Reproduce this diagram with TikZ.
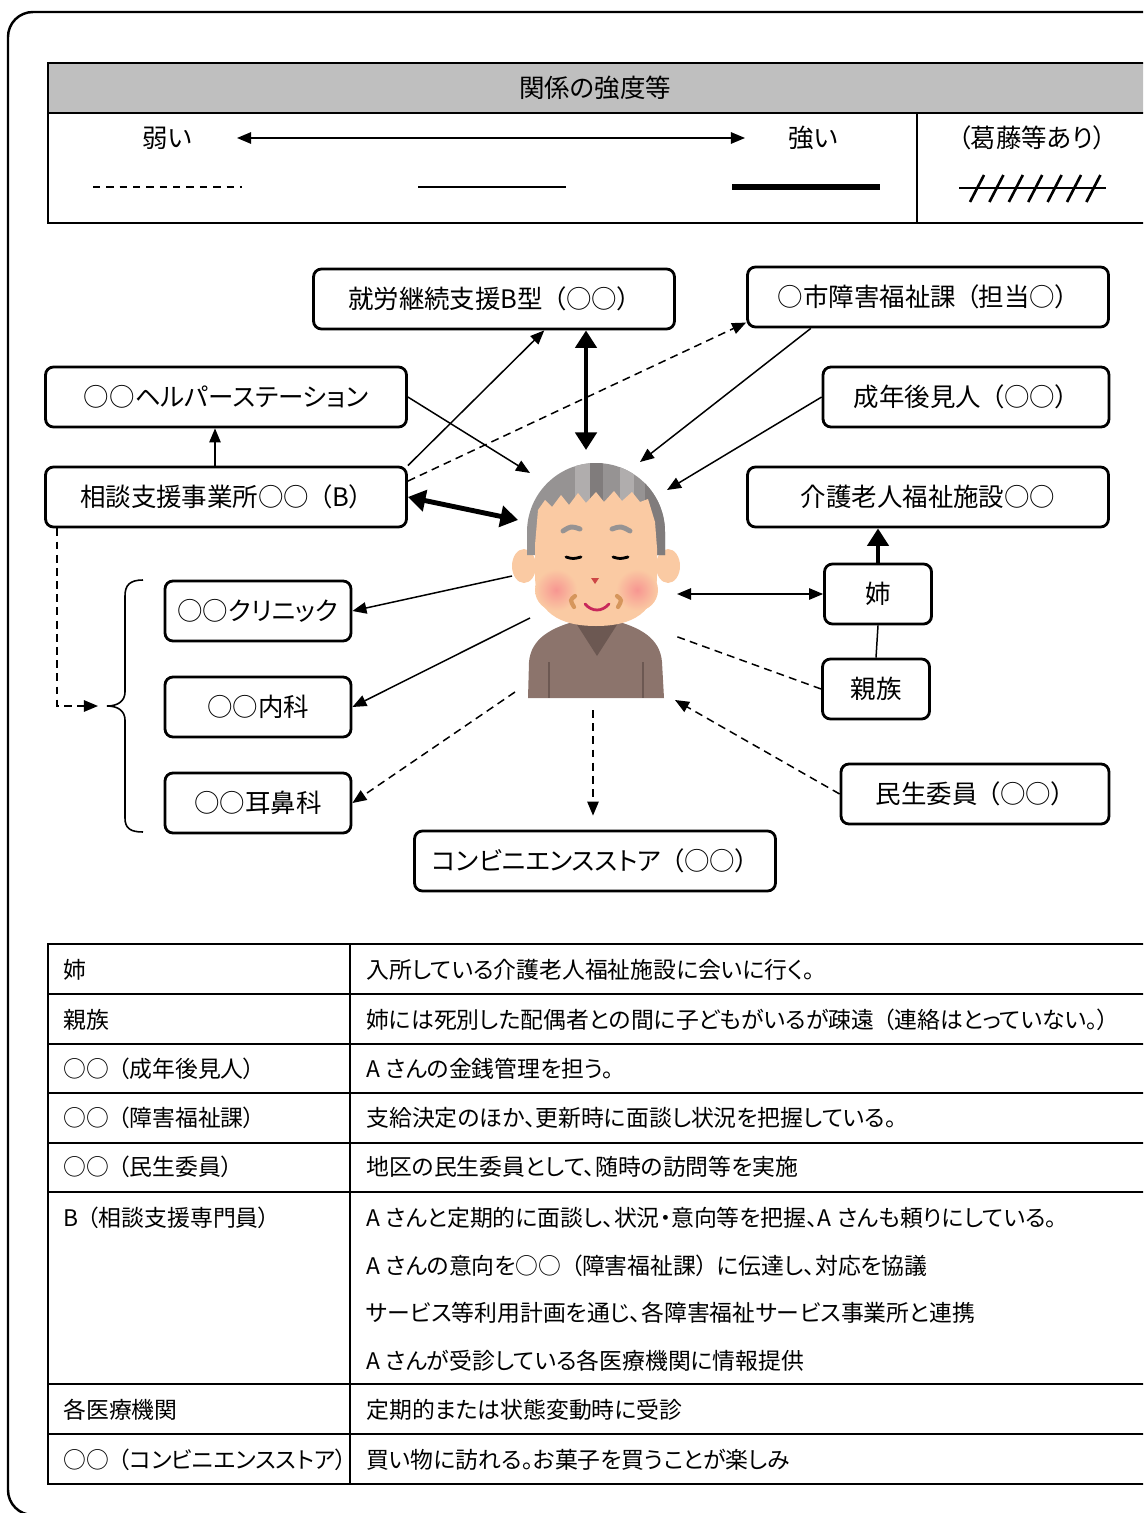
\documentclass[tikz,border=0pt]{standalone}
\usepackage{fontspec}
\setmainfont{Noto Sans CJK JP}[RawFeature=+palt]
\usetikzlibrary{arrows.meta}

% keep the full-width look of the brackets next to proportional kana
\XeTeXinterchartokenstate=1
\newXeTeXintercharclass\openparclass
\newXeTeXintercharclass\closeparclass
\XeTeXcharclass"FF08=\openparclass
\XeTeXcharclass"FF09=\closeparclass
\XeTeXinterchartoks 0 \openparclass={\kern.4em}
\XeTeXinterchartoks 1 \openparclass={\kern.4em}
\XeTeXinterchartoks \closeparclass 0={\kern.4em}
\XeTeXinterchartoks \closeparclass 1={\kern.4em}
\XeTeXinterchartoks \closeparclass 4095={\kern.4em}

\definecolor{legendgray}{RGB}{191,191,191}
\definecolor{skin}{RGB}{250,202,163}
\definecolor{blush}{RGB}{247,150,145}
\definecolor{hair}{RGB}{150,147,147}
\definecolor{hairlight}{RGB}{176,173,173}
\definecolor{hairdark}{RGB}{128,124,124}
\definecolor{sweater}{RGB}{140,116,108}
\definecolor{sweaterdark}{RGB}{108,88,82}
\definecolor{mouthred}{RGB}{200,40,90}
\definecolor{wrinkle}{RGB}{214,150,92}
\definecolor{nosered}{RGB}{205,70,70}

\newcommand{\boxfont}{\fontsize{14.5pt}{17pt}\selectfont}
\newcommand{\cellfont}{\fontsize{13pt}{16pt}\selectfont}

\begin{document}
\begin{tikzpicture}[
    x=0.02cm, y=-0.02cm,
    box/.style={rectangle, draw, line width=1.6pt, rounded corners=4.5pt, minimum height=1.2cm, font=\boxfont},
    wide/.style={box, minimum width=7.22cm},
    short/.style={box, minimum width=3.72cm},
    tiny/.style={box, minimum width=2.14cm},
    cell/.style={anchor=west, inner sep=0pt, font=\cellfont},
    rule/.style={line width=1.3pt},
    arrow/.style={-{Triangle[length=8pt,width=6.5pt]}, line width=0.85pt},
    both/.style={{Triangle[length=8pt,width=6.5pt]}-{Triangle[length=8pt,width=6.5pt]}, line width=0.85pt},
    strong/.style={-{Triangle[length=10pt,width=12pt]}, line width=2.8pt},
    strongboth/.style={{Triangle[length=10pt,width=12pt]}-{Triangle[length=10pt,width=12pt]}, line width=2.8pt},
    weak/.style={dash pattern=on 4.5pt off 3pt}
]
\useasboundingbox (0,0) rectangle (1143,1513);
\clip (0,0) rectangle (1143,1513);

% outer frame
\draw[line width=1.4pt, rounded corners=0.5cm] (8,12) rectangle (1180,1515);

% legend
\fill[legendgray] (48,63) rectangle (1200,113);
\draw[rule] (48,63) rectangle (1200,223);
\draw[rule] (48,113) -- (1200,113);
\draw[line width=1pt] (917,113) -- (917,223);
\node[font=\boxfont] (legendtitle) at (595,88) {関係の強度等};
\node[font=\boxfont] (weaklbl) at (167,138) {弱い};
\node[font=\boxfont] (stronglbl) at (813,138) {強い};
\node[font=\boxfont] (conflictlbl) at (1037,138) {（葛藤等あり）};
\coordinate (scaleleft) at (237,138);
\coordinate (scaleright) at (745,138);
\draw[both] (scaleleft) -- (scaleright);
\draw[line width=1.2pt, dash pattern=on 4.2pt off 3.4pt] (93,187) -- (242,187);
\draw[line width=1.6pt] (418,187) -- (566,187);
\draw[line width=3.5pt] (732,187) -- (880,187);
\draw[line width=0.9pt] (959,188) -- (1106,188);
\foreach \i in {0,...,6}
    \draw[line width=1.5pt] ({977+19.4*\i-7},202) -- ({977+19.4*\i+7},175);

% services and people around A
\node[wide] (shurou) at (494,299) {就労継続支援B型（○○）};
\node[wide] (shishogai) at (928,297) {○市障害福祉課（担当○）};
\node[wide] (helper) at (226,397) {○○ヘルパーステーション};
\node[box, minimum width=5.72cm] (kouken) at (966,397) {成年後見人（○○）};
\node[wide] (soudan) at (226,497) {相談支援事業所○○（B）};
\node[wide] (kaigo) at (928,497) {介護老人福祉施設○○};
\node[short] (clinic) at (258,611) {○○クリニック};
\node[tiny] (ane) at (878,594) {姉};
\node[short] (naika) at (258,707) {○○内科};
\node[tiny] (shinzoku) at (876,689) {親族};
\node[short] (jibika) at (258,803) {○○耳鼻科};
\node[box, minimum width=5.36cm] (minsei) at (975,794) {民生委員（○○）};
\node[wide] (konbini) at (595,861) {コンビニエンスストア（○○）};

% A (the elderly man)
\fill[sweater] (528,698) -- (529,662) .. controls (531,638) and (552,627) .. (580,620)
    -- (612,620) .. controls (640,627) and (660,638) .. (662,662) -- (664,698) -- cycle;
\fill[sweaterdark] (574,620) -- (597,656) -- (620,620) -- cycle;
\draw[sweaterdark, line width=1.2pt] (549,662) -- (549,698);
\draw[sweaterdark, line width=1.2pt] (643,662) -- (643,698);
\fill[skin] (524,566) ellipse (12 and 17);
\fill[skin] (668,566) ellipse (12 and 17);
\begin{scope}
    \clip (527,555) -- (527,532) arc[start angle=180, end angle=360, radius=69] -- (665,555) -- cycle;
    \fill[hair] (520,450) rectangle (670,560);
    \fill[hairlight] (575,450) rectangle (590,520);
    \fill[hairdark] (590,450) rectangle (603,520);
    \fill[hairlight] (620,450) rectangle (634,520);
    \fill[hairdark] (645,450) rectangle (670,560);
\end{scope}
\fill[skin] (535,545) -- (538,510) -- (545,500) -- (552,507) -- (561,495) -- (569,505)
    -- (578,493) -- (586,503) -- (596,492) -- (604,502) -- (614,491) -- (622,501)
    -- (632,492) -- (640,502) -- (648,499) -- (655,522) -- (657,548) -- (657,575)
    .. controls (657,613) and (632,626) .. (596,626) .. controls (560,626) and (535,613) .. (535,575) -- cycle;
\shade[inner color=blush, outer color=skin] (556,590) circle (21);
\shade[inner color=blush, outer color=skin] (637,590) circle (21);
\draw[hair, line width=2.8pt, line cap=round] (563,531) .. controls (571,526) .. (580,529);
\draw[hair, line width=2.8pt, line cap=round] (612,529) .. controls (621,526) .. (630,531);
\draw[line width=1.6pt, line cap=round] (566,557) .. controls (573,559) .. (581,557);
\draw[line width=1.6pt, line cap=round] (613,557) .. controls (620,559) .. (628,557);
\fill[nosered] (591,578) -- (599,578) -- (595,584) -- cycle;
\draw[wrinkle, line width=2.4pt, line cap=round] (575,596) .. controls (570,600) .. (574,607);
\draw[wrinkle, line width=2.4pt, line cap=round] (617,596) .. controls (622,600) .. (618,607);
\draw[mouthred, line width=1.6pt, line cap=round] (585,604) .. controls (592,612) and (602,612) .. (609,604);

% where the lines meet A
\coordinate (p-helper) at (530,473);
\coordinate (p-shurou) at (586,450);
\coordinate (p-soudan) at (518,520);
\coordinate (p-shi) at (640,462);
\coordinate (p-kouken) at (667,490);
\coordinate (p-ane) at (677,594);
\coordinate (p-shinzoku) at (675,636);
\coordinate (p-minsei) at (675,700);
\coordinate (p-konbini) at (593,710);
\coordinate (p-jibika) at (515,692);
\coordinate (p-naika) at (530,618);
\coordinate (p-clinic) at (512,576);
\coordinate (medical) at (98,706);

% medical bracket
\draw[line width=0.9pt] (143,580) .. controls (130,580) and (125,585) .. (125,596) -- (125,692)
    .. controls (125,701) and (118,706) .. (107,706) .. controls (118,706) and (125,711) .. (125,720)
    -- (125,818) .. controls (125,828) and (130,832) .. (143,832);

% Connections
\draw[arrow] (helper.east) -- (p-helper);
\draw[arrow] (soudan.north east) -- (shurou.-32);
\draw[arrow, weak] (soudan.5) -- (shishogai.188);
\draw[strongboth] (soudan.east) -- (p-soudan);
\draw[strongboth] (p-shurou |- shurou.south) -- (p-shurou);
\draw[arrow] (shishogai.-165) -- (p-shi);
\draw[arrow] (kouken.west) -- (p-kouken);
\draw[arrow] ([xshift=-0.22cm]soudan.north) -- ([xshift=-0.22cm]helper.south);
\draw[arrow, weak] ([xshift=0.26cm]soudan.south west) |- (medical);
\draw[arrow] (p-clinic) -- (clinic.east);
\draw[arrow] (p-naika) -- (naika.east);
\draw[arrow, weak] (p-jibika) -- (jibika.east);
\draw[arrow, weak, shorten >=0.28cm] (p-konbini) -- (p-konbini |- konbini.north);
\draw[arrow, weak] (minsei.west) -- (p-minsei);
\draw[line width=0.85pt, weak] (shinzoku.west) -- (p-shinzoku);
\draw[both] (ane.west) -- (p-ane);
\draw[strong] (ane.north) -- (ane.north |- kaigo.south);
\draw[line width=0.85pt] (ane.south) -- (shinzoku.north);

% notes table
\draw[rule] (48,944) rectangle (1200,1484);
\foreach \y in {994,1044,1093,1143,1192,1384,1434}
    \draw[rule] (48,\y) -- (1200,\y);
\draw[rule] (350,944) -- (350,1484);

\foreach \y/\who/\what [count=\i] in {
    970/{姉}/{入所している介護老人福祉施設に会いに行く。},
    1020/{親族}/{姉には死別した配偶者との間に子どもがいるが疎遠（連絡はとっていない。）},
    1069/{○○（成年後見人）}/{A さんの金銭管理を担う。},
    1118/{○○（障害福祉課）}/{支給決定のほか、更新時に面談し状況を把握している。},
    1167/{○○（民生委員）}/{地区の民生委員として、随時の訪問等を実施},
    1218/{B（相談支援専門員）}/{A さんと定期的に面談し、状況・意向等を把握、A さんも頼りにしている。},
    1410/{各医療機関}/{定期的または状態変動時に受診},
    1460/{○○（コンビニエンスストア）}/{買い物に訪れる。お菓子を買うことが楽しみ}}
{
    \node[cell] (who\i) at (63,\y) {\who};
    \node[cell] (what\i) at (366,\y) {\what};
}
\node[cell] (bnote2) at (366,1266) {A さんの意向を○○（障害福祉課）に伝達し、対応を協議};
\node[cell] (bnote3) at (366,1313) {サービス等利用計画を通じ、各障害福祉サービス事業所と連携};
\node[cell] (bnote4) at (366,1361) {A さんが受診している各医療機関に情報提供};

\end{tikzpicture}
\end{document}
